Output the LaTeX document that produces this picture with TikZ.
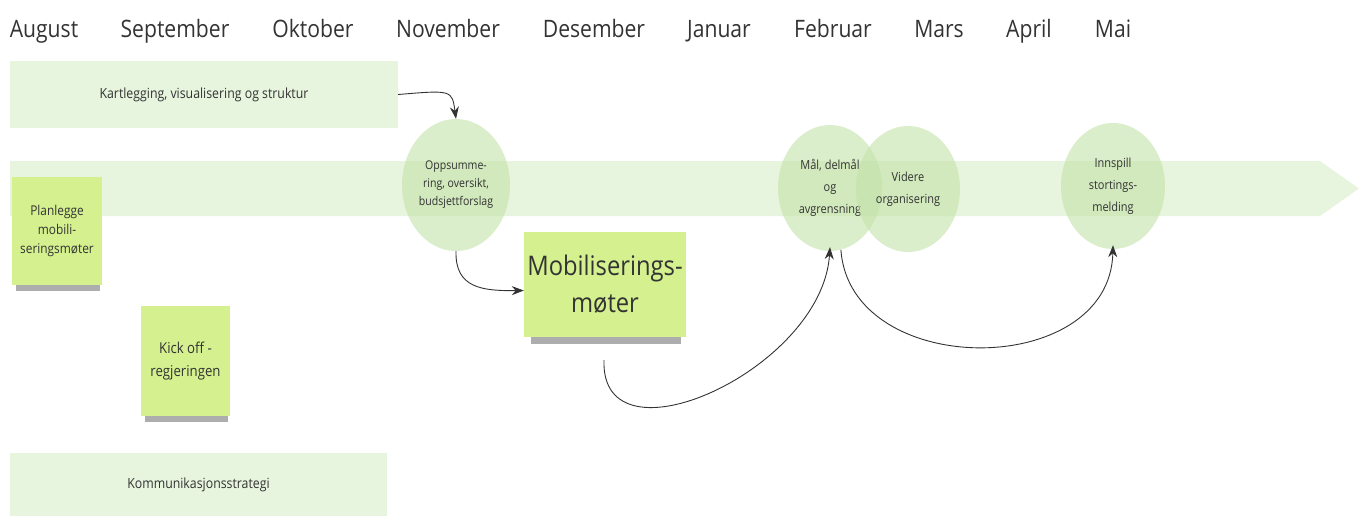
\documentclass[tikz,border=0pt]{standalone}
\usepackage{fontspec}
\setmainfont{Open Sans}[FakeStretch=0.88]
\usetikzlibrary{arrows.meta,shadows,shapes.geometric}

\definecolor{bandgreen}{HTML}{E8F5DE}
\definecolor{ringgreen}{HTML}{C3E2A8}
\definecolor{notegreen}{HTML}{D5F18F}
\definecolor{inkgray}{HTML}{333333}

\begin{document}
\begin{tikzpicture}[x=1pt,y=-1pt,
	month/.style={anchor=base, inner sep=0pt, text=inkgray, font=\fontsize{24}{28}\selectfont},
	strip/.style={rectangle, fill=bandgreen, inner sep=0pt, text=inkgray, font=\fontsize{14}{18}\selectfont},
	ring/.style={ellipse, fill=ringgreen, fill opacity=0.6, text opacity=1, inner sep=0pt,
		minimum width=104pt, minimum height=126pt, align=center, text=inkgray, font=\fontsize{12.5}{22}\selectfont},
	note/.style={rectangle, fill=notegreen, inner sep=0pt, align=center, text=inkgray,
		drop shadow={shadow xshift=1pt, shadow yshift=-11pt, shadow scale=0.93, fill=black!80, opacity=0.4}},
	conn/.style={-{Stealth[length=12pt,width=9pt]}, draw=inkgray, line width=0.9pt}]
	
	\useasboundingbox (0,0) rectangle (1359,517);
	
	% Months
	\node[month] (aug) at (44,37) {August};
	\node[month] (sep) at (175,37) {September};
	\node[month] (okt) at (313,37) {Oktober};
	\node[month] (nov) at (448,37) {November};
	\node[month] (des) at (594,37) {Desember};
	\node[month] (jan) at (719,37) {Januar};
	\node[month] (feb) at (833,37) {Februar};
	\node[month] (mar) at (939,37) {Mars};
	\node[month] (apr) at (1029,37) {April};
	\node[month] (mai) at (1113,37) {Mai};
	
	% Draw Shape
	\fill[bandgreen] (10,161) -- (1320,161) -- (1359,188.5) -- (1320,216) -- (10,216) -- cycle;
	\node[strip, minimum width=388pt, minimum height=67pt] (kart) at (204,94.5) {Kartlegging, visualisering og struktur};
	\node[strip, minimum width=377pt, minimum height=63pt] (komm) at (198.5,484.5) {Kommunikasjonsstrategi};
	
	\node[ring, minimum width=108pt, minimum height=132pt, font=\fontsize{12}{18}\selectfont] (opp) at (456,185) {Oppsumme-\\ring, oversikt,\\budsjettforslag};
	\node[ring] (mal) at (830,188) {Mål, delmål\\og\\avgrensning};
	\node[ring] (vid) at (908,189) {Videre\\organisering};
	\node[ring] (inn) at (1113,186) {Innspill\\stortings-\\melding};
	
	\node[note, minimum width=90pt, minimum height=108pt, font=\fontsize{13.5}{19}\selectfont] (plan) at (57,231) {Planlegge\\mobili-\\seringsmøter};
	\node[note, minimum width=89pt, minimum height=110pt, font=\fontsize{15}{23}\selectfont] (kick) at (185.5,361) {Kick off -\\regjeringen};
	\node[note, minimum width=162pt, minimum height=105pt, font=\fontsize{27}{37}\selectfont] (mob) at (605,284.5) {Mobiliserings-\\møter};
	
	\coordinate (mobout) at (604,360);
	
	% Arrows
	\draw[conn] (kart.east) .. controls (452,90) .. (opp.north);
	\draw[conn] (opp.south) .. controls (455,288) and (482,291) .. ([yshift=-6pt]mob.west);
	\draw[conn] (mobout) .. controls (600,470) and (822,370) .. ([yshift=4pt]mal.south);
	\draw[conn] (mal.-80) .. controls (850,380) and (1110,380) .. ([yshift=4pt]inn.south);
	
\end{tikzpicture}
\end{document}
